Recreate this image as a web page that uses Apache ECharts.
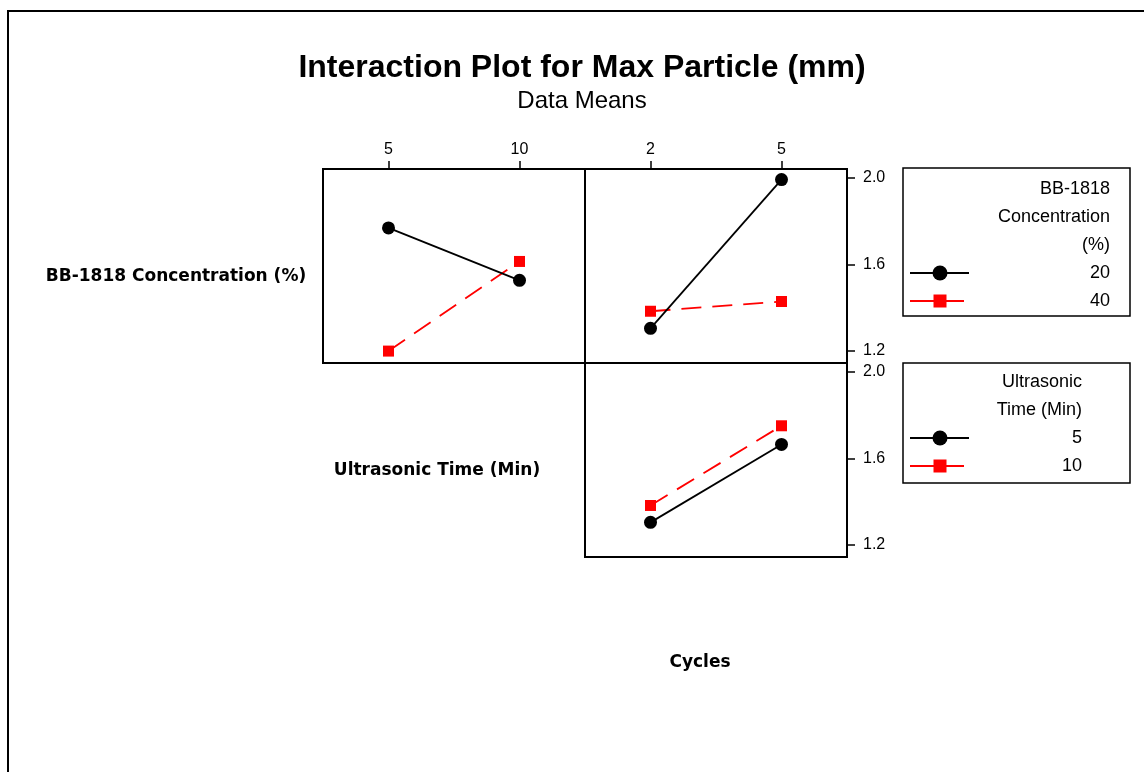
<!DOCTYPE html>
<html>
<head>
<meta charset="utf-8">
<script src="https://cdn.jsdelivr.net/npm/echarts@6/dist/echarts.min.js"></script>
<style>
  html, body { margin: 0; padding: 0; background: #fff; }
  #chart { width: 1144px; height: 772px; }
</style>
</head>
<body>
<div id="chart"></div>
<script>
// Factor levels
const ultrasonicLevels = [5, 10];
const cycleLevels = [2, 5];
const concentrationNames = ['20', '40'];
const ultrasonicNames = ['5', '10'];

// Means of Max Particle (mm): concentration traces across ultrasonic time
const conc20ByTime = [1.768, 1.526];
const conc40ByTime = [1.199, 1.613];
// concentration traces across cycles
const conc20ByCycles = [1.304, 1.991];
const conc40ByCycles = [1.383, 1.428];
// ultrasonic time traces across cycles
const time5ByCycles = [1.304, 1.664];
const time10ByCycles = [1.382, 1.750];

// Response axis tick labels
const yTicks = [1.2, 1.6, 2.0];

const SANS = '"Liberation Sans", Arial, sans-serif';
const BOLD_SANS = '"DejaVu Sans", "Liberation Sans", sans-serif';
const RED = '#ff0000';

const pairs = (xs, ys) => xs.map((x, i) => [x, ys[i]]);

function blackTrace(name, idx, xs, ys) {
  return {
    type: 'line', name, xAxisIndex: idx, yAxisIndex: idx,
    data: pairs(xs, ys),
    symbol: 'circle', symbolSize: 13,
    itemStyle: { color: '#000' },
    lineStyle: { color: '#000', width: 1.8 },
    z: 3
  };
}
function redTrace(name, idx, xs, ys) {
  return {
    type: 'line', name, xAxisIndex: idx, yAxisIndex: idx,
    data: pairs(xs, ys),
    symbol: 'rect', symbolSize: 11,
    itemStyle: { color: RED },
    lineStyle: { color: RED, width: 1.8, type: [20, 11] },
    z: 2
  };
}

const Y_MIN = 1.144, Y_MAX = 2.040;

function topXAxis(idx, min, max, ticks, showTicks) {
  return {
    gridIndex: idx, type: 'value', position: 'top', min, max,
    axisLine: { show: false },
    splitLine: { show: false },
    axisTick: { show: showTicks, customValues: ticks, length: 8, inside: false,
                lineStyle: { color: '#000', width: 1.5 } },
    axisLabel: { show: showTicks, customValues: ticks, margin: 11, color: '#000',
                 fontSize: 16, fontFamily: SANS }
  };
}
function rightYAxis(idx, showTicks) {
  return {
    gridIndex: idx, type: 'value', position: 'right', min: Y_MIN, max: Y_MAX,
    axisLine: { show: false },
    splitLine: { show: false },
    axisTick: { show: showTicks, customValues: yTicks, length: 8, inside: false,
                lineStyle: { color: '#000', width: 1.5 } },
    axisLabel: { show: showTicks, customValues: yTicks, margin: 16, color: '#000',
                 fontSize: 16, fontFamily: SANS,
                 formatter: v => Number(v).toFixed(1) }
  };
}

const gridBase = { show: true, borderColor: '#000', borderWidth: 2, backgroundColor: 'transparent' };

// Legend block: header lines, then one row per level
function legendBlock(x, y, w, h, headerLines, names, textRight, firstRowY) {
  const els = [{
    type: 'rect', shape: { x, y, width: w, height: h },
    style: { fill: 'none', stroke: '#000', lineWidth: 1.5 }
  }];
  headerLines.forEach((t, i) => els.push({
    type: 'text', x: textRight, y: firstRowY - (headerLines.length - i) * 28,
    style: { text: t, fill: '#000', font: '18px ' + SANS, align: 'right', verticalAlign: 'middle' }
  }));
  names.forEach((n, i) => {
    const cy = firstRowY + i * 28;
    const col = i === 0 ? '#000' : RED;
    els.push({ type: 'line', shape: { x1: 910, y1: cy, x2: i === 0 ? 969 : 964, y2: cy },
               style: { stroke: col, lineWidth: 2 } });
    if (i === 0) {
      els.push({ type: 'circle', shape: { cx: 940, cy, r: 7.5 }, style: { fill: col } });
    } else {
      els.push({ type: 'rect', shape: { x: 933.5, y: cy - 6.5, width: 13, height: 13 }, style: { fill: col } });
    }
    els.push({ type: 'text', x: textRight, y: cy,
               style: { text: n, fill: '#000', font: '18px ' + SANS, align: 'right', verticalAlign: 'middle' } });
  });
  return els;
}

const chart = echarts.init(document.getElementById('chart'), null, { renderer: 'canvas' });

chart.setOption({
  animation: false,
  backgroundColor: '#fff',
  grid: [
    Object.assign({ left: 323, top: 169, width: 262, height: 194 }, gridBase),
    Object.assign({ left: 585, top: 169, width: 262, height: 194 }, gridBase),
    Object.assign({ left: 585, top: 363, width: 262, height: 194 }, gridBase)
  ],
  xAxis: [
    topXAxis(0, 2.5, 12.5, ultrasonicLevels, true),
    topXAxis(1, 0.5, 6.5, cycleLevels, true),
    topXAxis(2, 0.5, 6.5, cycleLevels, false)
  ],
  yAxis: [
    rightYAxis(0, false),
    rightYAxis(1, true),
    rightYAxis(2, true)
  ],
  series: [
    blackTrace(concentrationNames[0], 0, ultrasonicLevels, conc20ByTime),
    redTrace(concentrationNames[1], 0, ultrasonicLevels, conc40ByTime),
    blackTrace(concentrationNames[0], 1, cycleLevels, conc20ByCycles),
    redTrace(concentrationNames[1], 1, cycleLevels, conc40ByCycles),
    blackTrace('Time ' + ultrasonicNames[0], 2, cycleLevels, time5ByCycles),
    redTrace('Time ' + ultrasonicNames[1], 2, cycleLevels, time10ByCycles)
  ],
  graphic: [
    // outer frame
    { type: 'polyline', shape: { points: [[8, 772], [8, 11], [1144, 11]] },
      style: { stroke: '#000', lineWidth: 2, fill: 'none' } },
    { type: 'text', x: 582, y: 68,
      style: { text: 'Interaction Plot for Max Particle (mm)', fill: '#000',
               font: 'bold 32px ' + SANS, align: 'center', verticalAlign: 'middle' } },
    { type: 'text', x: 582, y: 101,
      style: { text: 'Data Means', fill: '#000', font: '24px ' + SANS,
               align: 'center', verticalAlign: 'middle' } },
    { type: 'text', x: 176, y: 277,
      style: { text: 'BB-1818 Concentration (%)', fill: '#000', font: 'bold 17px ' + BOLD_SANS,
               align: 'center', verticalAlign: 'middle' } },
    { type: 'text', x: 437, y: 471,
      style: { text: 'Ultrasonic Time (Min)', fill: '#000', font: 'bold 17px ' + BOLD_SANS,
               align: 'center', verticalAlign: 'middle' } },
    { type: 'text', x: 700, y: 663,
      style: { text: 'Cycles', fill: '#000', font: 'bold 17px ' + BOLD_SANS,
               align: 'center', verticalAlign: 'middle' } },
    ...legendBlock(903, 168, 227, 148, ['BB-1818', 'Concentration', '(%)'], concentrationNames, 1110, 273),
    ...legendBlock(903, 363, 227, 120, ['Ultrasonic', 'Time (Min)'], ultrasonicNames, 1082, 438)
  ]
});
</script>
</body>
</html>
